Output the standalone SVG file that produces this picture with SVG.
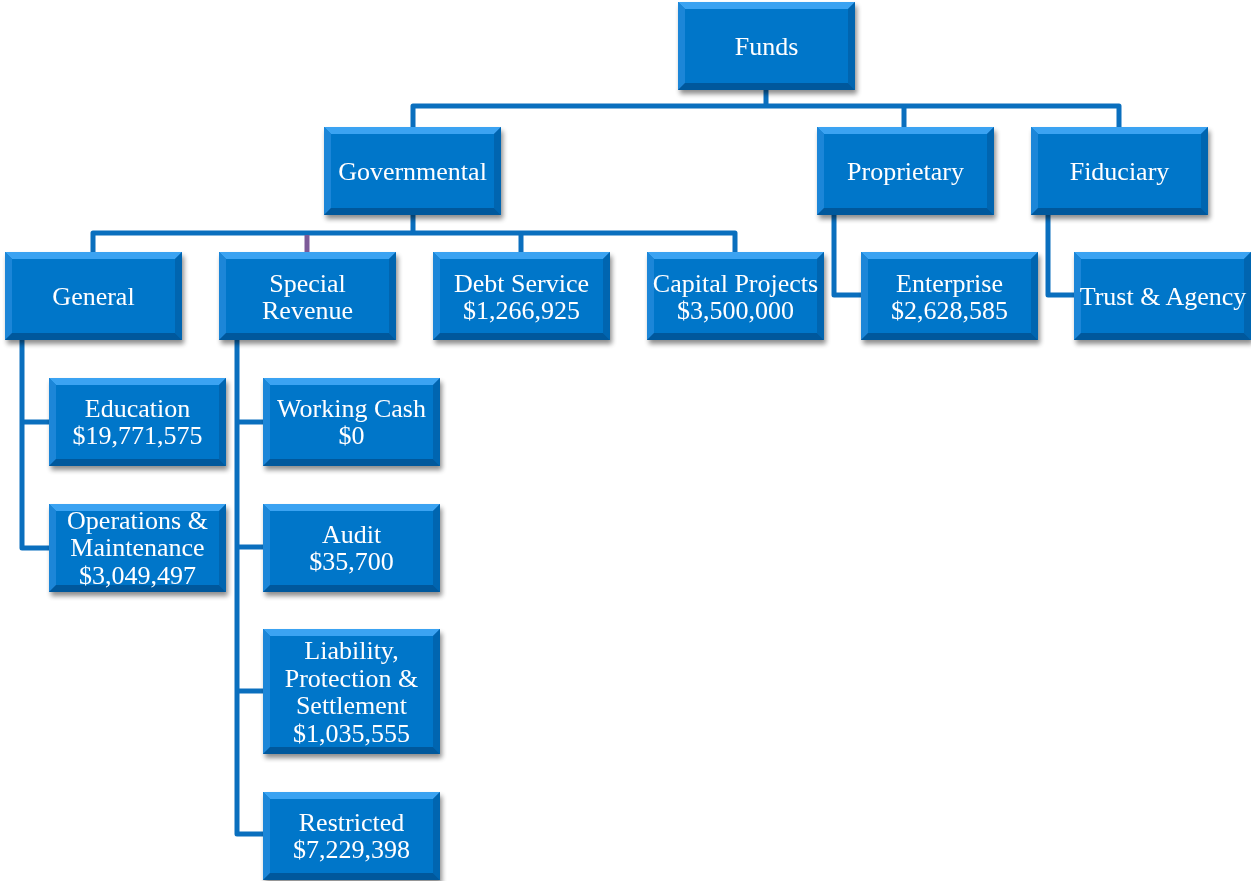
<svg xmlns="http://www.w3.org/2000/svg" width="1251" height="881" viewBox="0 0 1251 881">
  <style>
    .wire { fill: none; stroke: #0a6fbe; stroke-width: 5; stroke-linejoin: round; }
    .wire-alt { fill: none; stroke: #7d5a98; stroke-width: 5; }
    .face { fill: #0676c9; }
    .bev-t { fill: #3ba3f2; }
    .bev-l { fill: #1a86d8; }
    .bev-r { fill: #0565b0; }
    .bev-b { fill: #04589c; }
    .lbl { font-family: "Liberation Serif", "Times New Roman", serif; font-size: 26px; fill: #ffffff; text-anchor: middle; }
  </style>
  <defs>
    <filter id="shadow" x="-10%" y="-10%" width="125%" height="130%">
      <feGaussianBlur in="SourceAlpha" stdDeviation="2.5"/>
      <feOffset dx="2" dy="4" result="b"/>
      <feComponentTransfer><feFuncA type="linear" slope="0.45"/></feComponentTransfer>
      <feMerge><feMergeNode/><feMergeNode in="SourceGraphic"/></feMerge>
    </filter>
    <!-- bevelled box, 177 x 88 -->
    <g id="box">
      <rect class="face" x="0" y="0" width="177" height="88"/>
      <polygon class="bev-t" points="0,0 177,0 170,7 7,7"/>
      <polygon class="bev-l" points="0,0 7,7 7,81 0,88"/>
      <polygon class="bev-r" points="177,0 177,88 170,81 170,7"/>
      <polygon class="bev-b" points="0,88 7,81 170,81 177,88"/>
    </g>
    <!-- taller bevelled box, 177 x 125 -->
    <g id="boxTall">
      <rect class="face" x="0" y="0" width="177" height="125"/>
      <polygon class="bev-t" points="0,0 177,0 170,7 7,7"/>
      <polygon class="bev-l" points="0,0 7,7 7,118 0,125"/>
      <polygon class="bev-r" points="177,0 177,125 170,118 170,7"/>
      <polygon class="bev-b" points="0,125 7,118 170,118 177,125"/>
    </g>
  </defs>

  <rect width="1251" height="881" fill="#ffffff"/>

  <g id="connectors">
    <path class="wire" d="M766,90 V106"/>
    <path class="wire" d="M413,127 V106 H1119 V127"/>
    <path class="wire" d="M904,106 V127"/>
    <path class="wire" d="M413,215 V233"/>
    <path class="wire" d="M93,252 V233 H735 V252"/>
    <path class="wire" d="M521,233 V252"/>
    <path class="wire-alt" d="M307,235 V252"/>
    <path class="wire" d="M834,215 V295 H861"/>
    <path class="wire" d="M1048,215 V295 H1075"/>
    <path class="wire" d="M22,340 V548 H49"/>
    <path class="wire" d="M22,422 H49"/>
    <path class="wire" d="M237,340 V834 H263"/>
    <path class="wire" d="M237,422 H263"/>
    <path class="wire" d="M237,547 H263"/>
    <path class="wire" d="M237,691 H263"/>
  </g>

  <g id="funds" filter="url(#shadow)">
    <use href="#box" x="678" y="2"/>
    <text class="lbl" x="766.5" y="54.5">Funds</text>
  </g>
  <g id="governmental" filter="url(#shadow)">
    <use href="#box" x="324" y="127"/>
    <text class="lbl" x="412.5" y="179.5">Governmental</text>
  </g>
  <g id="proprietary" filter="url(#shadow)">
    <use href="#box" x="817" y="127"/>
    <text class="lbl" x="905.5" y="179.5">Proprietary</text>
  </g>
  <g id="fiduciary" filter="url(#shadow)">
    <use href="#box" x="1031" y="127"/>
    <text class="lbl" x="1119.5" y="179.5">Fiduciary</text>
  </g>

  <g id="general" filter="url(#shadow)">
    <use href="#box" x="5" y="252"/>
    <text class="lbl" x="93.5" y="305">General</text>
  </g>
  <g id="special-revenue" filter="url(#shadow)">
    <use href="#box" x="219" y="252"/>
    <text class="lbl" x="307.5" y="291.5">Special</text>
    <text class="lbl" x="307.5" y="318.5">Revenue</text>
  </g>
  <g id="debt-service" filter="url(#shadow)">
    <use href="#box" x="433" y="252"/>
    <text class="lbl" x="521.5" y="291.5">Debt Service</text>
    <text class="lbl" x="521.5" y="318.5">$1,266,925</text>
  </g>
  <g id="capital-projects" filter="url(#shadow)">
    <use href="#box" x="647" y="252"/>
    <text class="lbl" x="735.5" y="291.5">Capital Projects</text>
    <text class="lbl" x="735.5" y="318.5">$3,500,000</text>
  </g>
  <g id="enterprise" filter="url(#shadow)">
    <use href="#box" x="861" y="252"/>
    <text class="lbl" x="949.5" y="291.5">Enterprise</text>
    <text class="lbl" x="949.5" y="318.5">$2,628,585</text>
  </g>
  <g id="trust-agency" filter="url(#shadow)">
    <use href="#box" x="1074" y="252"/>
    <text class="lbl" x="1163" y="305">Trust &amp; Agency</text>
  </g>

  <g id="education" filter="url(#shadow)">
    <use href="#box" x="49" y="378"/>
    <text class="lbl" x="137.5" y="416.5">Education</text>
    <text class="lbl" x="137.5" y="443.5">$19,771,575</text>
  </g>
  <g id="operations-maintenance" filter="url(#shadow)">
    <use href="#box" x="49" y="504"/>
    <text class="lbl" x="137.5" y="528.5">Operations &amp;</text>
    <text class="lbl" x="137.5" y="556">Maintenance</text>
    <text class="lbl" x="137.5" y="583.5">$3,049,497</text>
  </g>

  <g id="working-cash" filter="url(#shadow)">
    <use href="#box" x="263" y="378"/>
    <text class="lbl" x="351.5" y="416.5">Working Cash</text>
    <text class="lbl" x="351.5" y="443.5">$0</text>
  </g>
  <g id="audit" filter="url(#shadow)">
    <use href="#box" x="263" y="504"/>
    <text class="lbl" x="351.5" y="542.5">Audit</text>
    <text class="lbl" x="351.5" y="569.5">$35,700</text>
  </g>
  <g id="liability" filter="url(#shadow)">
    <use href="#boxTall" x="263" y="629"/>
    <text class="lbl" x="351.5" y="658.5">Liability,</text>
    <text class="lbl" x="351.5" y="686.5">Protection &amp;</text>
    <text class="lbl" x="351.5" y="714">Settlement</text>
    <text class="lbl" x="351.5" y="741.5">$1,035,555</text>
  </g>
  <g id="restricted" filter="url(#shadow)">
    <use href="#box" x="263" y="792"/>
    <text class="lbl" x="351.5" y="830.5">Restricted</text>
    <text class="lbl" x="351.5" y="857.5">$7,229,398</text>
  </g>
</svg>
